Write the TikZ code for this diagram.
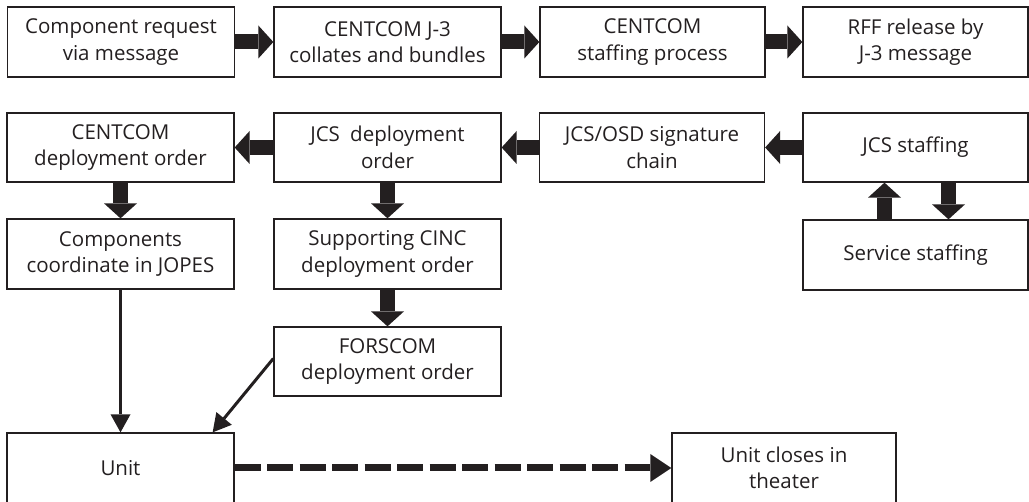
\documentclass[tikz,border=0pt]{standalone}
\usepackage{fontspec}
\setmainfont{Open Sans}
\usetikzlibrary{arrows.meta}
\definecolor{ink}{RGB}{35,31,32}
\begin{document}
\begin{tikzpicture}[x=1pt,y=-1pt,
 box/.style={draw=ink, line width=1.3pt, text=ink, align=center, minimum width=227pt, minimum height=70pt, inner sep=0pt, font=\fontsize{20.5}{26.5}\selectfont},
 bigarrow/.style={draw=ink, line width=15pt, -{Triangle[width=33pt,length=15pt,line width=0pt]}},
 thinarrow/.style={draw=ink, line width=3pt, -{Triangle[width=20pt,length=18pt,line width=0pt]}},
 dasharrow/.style={draw=ink, line width=7pt, dash pattern=on 26pt off 6.5pt, -{Triangle[width=28pt,length=21pt,line width=0pt]}}]
\useasboundingbox (0,0) rectangle (1029,502);
% row 1
\node[box] (a1) at (121,42) {Component request\\via message};
\node[box] (a2) at (387.5,42) {CENTCOM J-3\\collates and bundles};
\node[box, minimum width=225pt] (a3) at (652.5,42) {CENTCOM\\staffing process};
\node[box, minimum width=225pt] (a4) at (915.5,42) {RFF release by\\J-3 message};
% row 2
\node[box, minimum height=69pt] (b1) at (120.5,147.5) {CENTCOM\\deployment order};
\node[box, minimum height=69pt] (b2) at (387.5,147.5) {JCS\enspace deployment\\order};
\node[box, minimum height=69pt, minimum width=225pt] (b3) at (652,147.5) {JCS/OSD signature\\chain};
\node[box, minimum height=69pt, minimum width=225pt] (b4) at (915.5,147.5) {JCS staffing};
% row 3
\node[box] (c1) at (120.5,254) {Components\\coordinate in JOPES};
\node[box] (c2) at (387.5,254) {Supporting CINC\\deployment order};
\node[box, minimum width=225pt] (c4) at (915.5,255) {Service staffing};
% row 4
\node[box, minimum height=69pt] (d2) at (387.5,361.5) {FORSCOM\\deployment order};
% row 5
\node[box] (u) at (120.5,468) {Unit};
\node[box, minimum width=224pt] (t) at (784,468) {Unit closes in\\theater};
% block arrows
\draw[bigarrow] (a1.east) -- (a2.west);
\draw[bigarrow] (a2.east) -- (a3.west);
\draw[bigarrow] (a3.east) -- (a4.west);
\draw[bigarrow] (b4.west) -- (b3.east);
\draw[bigarrow] (b3.west) -- (b2.east);
\draw[bigarrow] (b2.west) -- (b1.east);
\draw[bigarrow] (b1.south) -- (c1.north);
\draw[bigarrow] (b2.south) -- (c2.north);
\draw[bigarrow] (c2.south) -- (d2.north);
\draw[bigarrow] ([xshift=-31pt]c4.north) -- ([xshift=-31pt]b4.south);
\draw[bigarrow] ([xshift=33pt]b4.south) -- ([xshift=33pt]c4.north);
% thin arrows
\draw[thinarrow] (c1.south) -- (u.north);
\draw[thinarrow] ([yshift=3pt]d2.west) -- ([xshift=-22pt]u.north east);
% dashed arrow
\draw[dasharrow] (u.east) -- (t.west);
\end{tikzpicture}
\end{document}
